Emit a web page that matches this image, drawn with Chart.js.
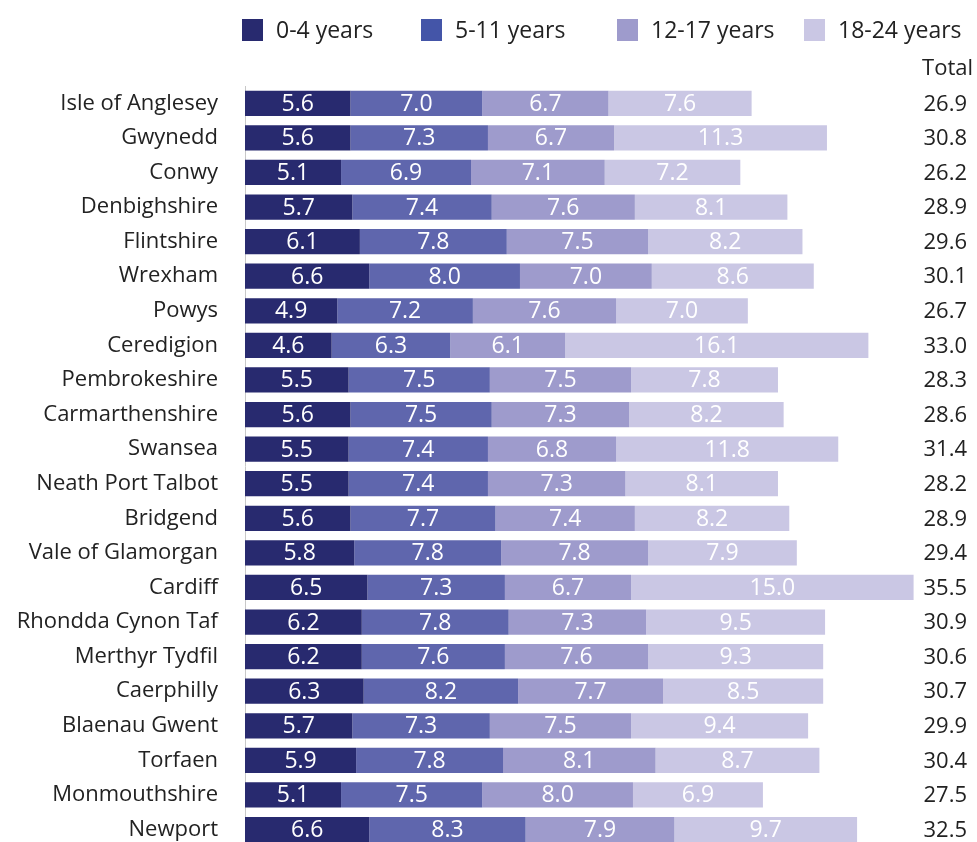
<!DOCTYPE html>
<html>
<head>
<meta charset="utf-8">
<script src="https://cdn.jsdelivr.net/npm/chart.js@4"></script>
<style>
  html, body { margin: 0; padding: 0; background: #fff; overflow: hidden; }
  canvas { display: block; }
</style>
</head>
<body>
<canvas id="ageChart" width="977" height="887"></canvas>
<script>
// local authorities, top to bottom
const areas = ["Isle of Anglesey", "Gwynedd", "Conwy", "Denbighshire", "Flintshire", "Wrexham",
    "Powys", "Ceredigion", "Pembrokeshire", "Carmarthenshire", "Swansea", "Neath Port Talbot",
    "Bridgend", "Vale of Glamorgan", "Cardiff", "Rhondda Cynon Taf", "Merthyr Tydfil",
    "Caerphilly", "Blaenau Gwent", "Torfaen", "Monmouthshire", "Newport"]
const ageGroups = ["0-4 years", "5-11 years", "12-17 years", "18-24 years"]
const age0to4 = [5.6, 5.6, 5.1, 5.7, 6.1, 6.6, 4.9, 4.6, 5.5, 5.6, 5.5, 5.5, 5.6, 5.8, 6.5, 6.2, 6.2, 6.3, 5.7, 5.9, 5.1, 6.6]
const age5to11 = [7.0, 7.3, 6.9, 7.4, 7.8, 8.0, 7.2, 6.3, 7.5, 7.5, 7.4, 7.4, 7.7, 7.8, 7.3, 7.8, 7.6, 8.2, 7.3, 7.8, 7.5, 8.3]
const age12to17 = [6.7, 6.7, 7.1, 7.6, 7.5, 7.0, 7.6, 6.1, 7.5, 7.3, 6.8, 7.3, 7.4, 7.8, 6.7, 7.3, 7.6, 7.7, 7.5, 8.1, 8.0, 7.9]
const age18to24 = [7.6, 11.3, 7.2, 8.1, 8.2, 8.6, 7.0, 16.1, 7.8, 8.2, 11.8, 8.1, 8.2, 7.9, 15.0, 9.5, 9.3, 8.5, 9.4, 8.7, 6.9, 9.7]
const totals = [26.9, 30.8, 26.2, 28.9, 29.6, 30.1, 26.7, 33.0, 28.3, 28.6, 31.4, 28.2, 28.9, 29.4, 35.5, 30.9, 30.6, 30.7, 29.9, 30.4, 27.5, 32.5]

const barColors = ["#282a6f", "#5f66ad", "#9e9bcc", "#cac7e4"]
const swatchColors = ["#282a6f", "#4455a8", "#9e9bcc", "#cac7e4"]
const FONT = "'Open Sans', 'Noto Sans', sans-serif"

// white numbers inside each segment, totals on the right, legend on top
const labelPlugin = {
    id: 'labels',
    afterDatasetsDraw(chart) {
        const ctx = chart.ctx
        ctx.save()
        ctx.font = "23px " + FONT
        ctx.textAlign = 'center'
        ctx.textBaseline = 'middle'
        ctx.fillStyle = '#ffffff'
        chart.data.datasets.forEach((ds, i) => {
            chart.getDatasetMeta(i).data.forEach((bar, j) => {
                ctx.fillText(ds.data[j].toFixed(1), (bar.x + bar.base) / 2, bar.y + 1)
            })
        })
        ctx.font = "22px " + FONT
        ctx.fillStyle = '#222222'
        ctx.textAlign = 'right'
        chart.getDatasetMeta(0).data.forEach((bar, j) => {
            ctx.fillText(totals[j].toFixed(1), 967, bar.y + 1)
        })
        ctx.fillText("Total", 973, 69)
        ctx.restore()
    },
    afterDraw(chart) {
        const ctx = chart.ctx
        const xs = [242, 421, 617, 804]
        ctx.save()
        ctx.font = "23px " + FONT
        ctx.textBaseline = 'middle'
        ctx.textAlign = 'left'
        ageGroups.forEach((g, i) => {
            ctx.fillStyle = swatchColors[i]
            ctx.fillRect(xs[i], 19, 21, 22)
            ctx.fillStyle = '#222222'
            ctx.fillText(g, xs[i] + 34, 31)
        })
        ctx.restore()
    }
}

const ctx1 = document.getElementById("ageChart").getContext('2d')
var myChart = new Chart(ctx1, {
    type: 'bar',
    data: {
        labels: areas,
        datasets: [age0to4, age5to11, age12to17, age18to24].map((d, i) => ({
            label: ageGroups[i],
            data: d,
            backgroundColor: barColors[i],
            barPercentage: 0.73,
            categoryPercentage: 1
        }))
    },
    options: {
        indexAxis: 'y',
        responsive: false,
        animation: false,
        layout: { padding: { top: 86, right: 54, bottom: 1, left: 0 } },
        plugins: { legend: { display: false }, tooltip: { enabled: false } },
        scales: {
            x: { stacked: true, min: 0, max: 36, display: false },
            y: {
                stacked: true,
                afterFit: (scale) => { scale.width = 245 },
                grid: { display: false, drawTicks: false },
                border: { display: true, color: '#c8c8c8', width: 1 },
                ticks: { color: '#222222', font: { size: 22, family: FONT }, padding: 27, autoSkip: false }
            }
        }
    },
    plugins: [labelPlugin]
})
</script>
</body>
</html>
